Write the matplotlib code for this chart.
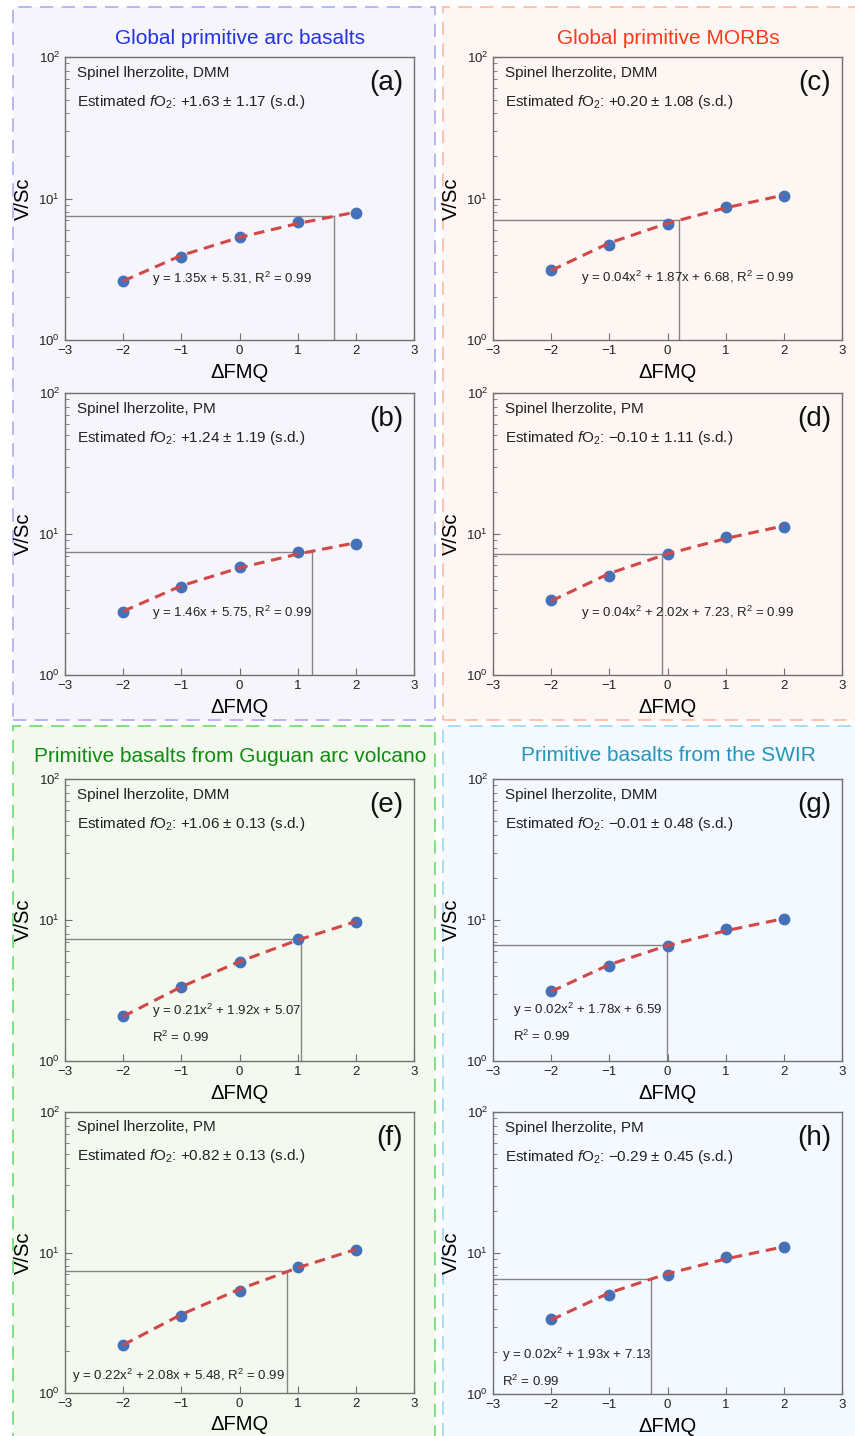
import numpy as np
import matplotlib
matplotlib.use("Agg")
import matplotlib.pyplot as plt
from matplotlib.patches import Rectangle

plt.rcParams['font.family'] = ['Liberation Sans', 'DejaVu Sans']
plt.rcParams['mathtext.fontset'] = 'custom'
plt.rcParams['mathtext.rm'] = 'Liberation Sans'
plt.rcParams['mathtext.it'] = 'Liberation Sans:italic'

# dFMQ des modeles
fmq = [-2, -1, 0, 1, 2]

# V/Sc modelises (points) et courbe de regression (tirets)
vsc_a = [2.62, 3.88, 5.37, 6.86, 7.86]
fit_a = [2.61, 3.96, 5.31, 6.66, 8.01]
vsc_b = [2.81, 4.19, 5.80, 7.41, 8.49]
fit_b = [2.83, 4.29, 5.75, 7.21, 8.67]
vsc_c = [3.14, 4.72, 6.65, 8.77, 10.5]
fit_c = [3.10, 4.85, 6.68, 8.59, 10.58]
vsc_d = [3.40, 5.06, 7.21, 9.48, 11.27]
fit_d = [3.35, 5.25, 7.23, 9.29, 11.43]
vsc_e = [2.08, 3.33, 5.06, 7.37, 9.73]
fit_e = [2.07, 3.36, 5.07, 7.20, 9.75]
vsc_f = [2.21, 3.52, 5.32, 7.85, 10.5]
fit_f = [2.20, 3.62, 5.48, 7.78, 10.52]
vsc_g = [3.15, 4.72, 6.57, 8.59, 10.2]
fit_g = [3.11, 4.83, 6.59, 8.39, 10.23]
vsc_h = [3.42, 5.06, 6.98, 9.37, 11.0]
fit_h = [3.35, 5.22, 7.13, 9.08, 11.07]

# fO2 estimee, ecart-type et V/Sc moyen de l'echantillon
fo2 = [1.63, 1.24, 0.20, -0.10, 1.06, 0.82, -0.01, -0.29]
fo2_sd = [1.17, 1.19, 1.08, 1.11, 0.13, 0.13, 0.48, 0.45]
vsc_obs = [7.56, 7.49, 7.10, 7.18, 7.33, 7.33, 6.65, 6.57]

sources = ['DMM', 'PM', 'DMM', 'PM', 'DMM', 'PM', 'DMM', 'PM']
letters = ['a', 'b', 'c', 'd', 'e', 'f', 'g', 'h']
equations = [
    'y = 1.35x + 5.31, R$^2$ = 0.99',
    'y = 1.46x + 5.75, R$^2$ = 0.99',
    'y = 0.04x$^2$ + 1.87x + 6.68, R$^2$ = 0.99',
    'y = 0.04x$^2$ + 2.02x + 7.23, R$^2$ = 0.99',
    'y = 0.21x$^2$ + 1.92x + 5.07\nR$^2$ = 0.99',
    'y = 0.22x$^2$ + 2.08x + 5.48, R$^2$ = 0.99',
    'y = 0.02x$^2$ + 1.78x + 6.59\nR$^2$ = 0.99',
    'y = 0.02x$^2$ + 1.93x + 7.13\nR$^2$ = 0.99',
]
eq_pos = [(0.249, 0.216), (0.249, 0.22), (0.252, 0.219), (0.252, 0.22),
          (0.249, 0.132), (0.02, 0.06), (0.057, 0.138), (0.026, 0.094)]

groups = ['Global primitive arc basalts', 'Global primitive MORBs',
          'Primitive basalts from Guguan arc volcano', 'Primitive basalts from the SWIR']
group_colors = ['#2233e8', '#ff3a1a', '#128a12', '#2596b8']

vsc_all = [vsc_a, vsc_b, vsc_c, vsc_d, vsc_e, vsc_f, vsc_g, vsc_h]
fit_all = [fit_a, fit_b, fit_c, fit_d, fit_e, fit_f, fit_g, fit_h]

W, H = 855, 1436
fig = plt.figure(figsize=(W / 100, H / 100), dpi=100)

# Cadres en tirets (pixels : x0, y0 haut, x1, y1 bas)
boxes = [(13, 7, 435, 720), (443, 7, 870, 720), (13, 726, 435, 1450), (443, 726, 870, 1450)]
box_face = ['#f6f5fc', '#fef6f3', '#f4f9ef', '#f3f9fe']
box_edge = ['#abaaf5', '#ffb7a5', '#6cdc6c', '#9cd8f0']
for (x0, y0, x1, y1), fc, ec in zip(boxes, box_face, box_edge):
    fig.patches.append(Rectangle((x0 / W, 1 - y1 / H), (x1 - x0) / W, (y1 - y0) / H,
                                 transform=fig.transFigure, facecolor=fc, edgecolor=ec,
                                 linewidth=1.2, linestyle=(0, (8, 5)), zorder=-5))

# Titres des groupes
title_xy = [(240, 38), (668, 38), (230, 756), (668, 755)]
for (tx, ty), t, c in zip(title_xy, groups, group_colors):
    fig.text(tx / W, 1 - ty / H, t, color=c, fontsize=15, ha='center', va='center')

# Position des axes (pixels)
axes_px = [(65, 57, 414, 340), (65, 393, 414, 675), (493, 57, 842, 340), (493, 393, 842, 675),
           (65, 779, 414, 1061), (65, 1112, 414, 1393), (493, 779, 842, 1061), (493, 1112, 842, 1394)]

for i in range(8):
    l, t, r, b = axes_px[i]
    ax = fig.add_axes([l / W, 1 - b / H, (r - l) / W, (b - t) / H])
    ax.set_facecolor('none')
    ax.set_yscale('log')
    ax.set_xlim(-3, 3)
    ax.set_ylim(1, 100)
    ax.set_xticks([-3, -2, -1, 0, 1, 2, 3])

    # Lignes de lecture de la fO2
    ax.plot([-3, fo2[i]], [vsc_obs[i], vsc_obs[i]], color='#858585', lw=1, zorder=2)
    ax.plot([fo2[i], fo2[i]], [1, vsc_obs[i]], color='#858585', lw=1, zorder=2)

    # Points et regression
    ax.plot(fmq, vsc_all[i], 'o', color='#4571b9', ms=7.5, zorder=3)
    ax.plot(fmq, fit_all[i], color='#d04848', lw=2.2, linestyle=(0, (3.5, 2.2)), zorder=4)

    ax.text(0.034, 0.945, 'Spinel lherzolite, ' + sources[i], transform=ax.transAxes,
            fontsize=11, va='center', ha='left', color='#222222')
    sign = '+' if fo2[i] >= 0 else '\u2212'
    ax.text(0.034, 0.842, 'Estimated $f$O$_2$: %s%.2f \u00b1 %.2f (s.d.)' % (sign, abs(fo2[i]), fo2_sd[i]),
            transform=ax.transAxes, fontsize=11, va='center', ha='left', color='#222222')
    ax.text(0.969, 0.908, '(%s)' % letters[i], transform=ax.transAxes,
            fontsize=20, va='center', ha='right', color='#111111')
    ax.text(eq_pos[i][0], eq_pos[i][1], equations[i], transform=ax.transAxes,
            fontsize=9.5, va='center', ha='left', color='#222222', linespacing=1.8)

    ax.set_xlabel('\u0394FMQ', fontsize=14.5)
    ax.set_ylabel('V/Sc', fontsize=14.5)
    ax.xaxis.set_label_coords(0.5, -0.08)
    ax.yaxis.set_label_coords(-0.092, 0.5)

    for s in ax.spines.values():
        s.set_color('#707070')
        s.set_linewidth(1)
    ax.tick_params(which='both', direction='in', top=False, right=False,
                   colors='#707070', labelcolor='#222222', labelsize=9.5)
    ax.tick_params(which='major', length=5, pad=3.5)
    ax.tick_params(which='minor', length=3)

plt.savefig('out.png', dpi=100)
